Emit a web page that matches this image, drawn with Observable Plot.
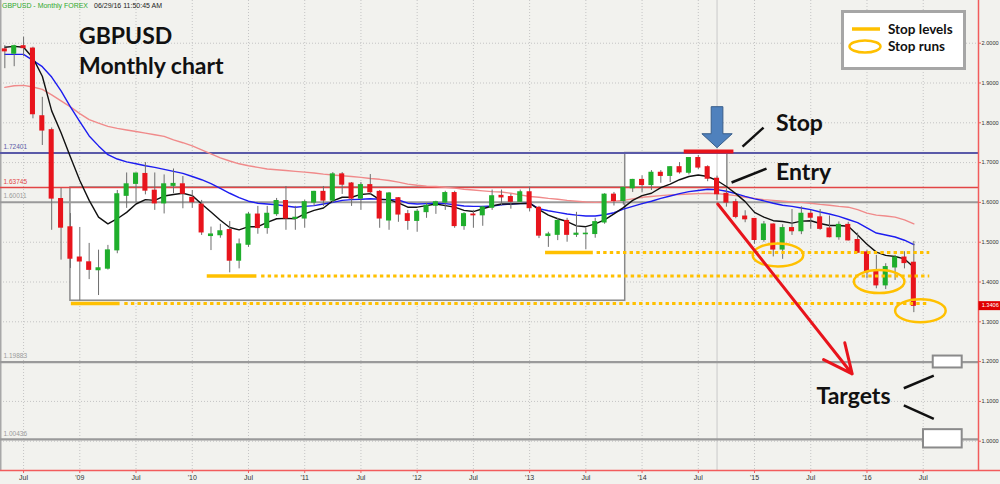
<!DOCTYPE html>
<html><head><meta charset="utf-8">
<script src="https://cdn.jsdelivr.net/npm/d3@7"></script>
<script src="https://cdn.jsdelivr.net/npm/@observablehq/plot@0.6"></script>
<style>
body{margin:0;background:#f2f2ee;}
#wrap{position:relative;width:1000px;height:484px;overflow:hidden;background:#f2f2ee;}
#chart svg{display:block;}
#overlay{position:absolute;left:0;top:0;pointer-events:none;}
</style></head>
<body>
<div id="wrap"><div id="chart"></div>
<svg id="overlay" width="1000" height="484">
  <text x="2" y="8" font-family="Liberation Sans, Arial" font-size="7.5" textLength="86" lengthAdjust="spacingAndGlyphs" fill="#2fa82f">GBPUSD - Monthly  FOREX</text>
  <text x="94" y="8" font-family="Liberation Sans, Arial" font-size="7.5" textLength="68" lengthAdjust="spacingAndGlyphs" fill="#222">06/29/16  11:50:45 AM</text>
  <text x="79" y="43.5" font-family="Lato, 'Open Sans', sans-serif" font-weight="bold" font-size="23" fill="#111">GBPUSD</text>
  <text x="79" y="74" font-family="Lato, 'Open Sans', sans-serif" font-weight="bold" font-size="23" fill="#111">Monthly chart</text>
  <rect x="842.5" y="11.5" width="122" height="57" fill="#fff" stroke="#a6a6a6" stroke-width="3"/>
  <line x1="852" y1="29" x2="880" y2="29" stroke="#ffc000" stroke-width="3.5"/>
  <ellipse cx="865" cy="46.5" rx="15.5" ry="6" fill="none" stroke="#ffc000" stroke-width="2.5"/>
  <text x="888" y="33.5" font-family="Lato, 'Open Sans', sans-serif" font-weight="bold" font-size="13.5" fill="#111">Stop levels</text>
  <text x="888" y="50.5" font-family="Lato, 'Open Sans', sans-serif" font-weight="bold" font-size="13.5" fill="#111">Stop runs</text>
</svg>
</div>
<script>
// ---- data: monthly GBPUSD candles, May 2008 .. Jun 2016 (month index 0 = Jan 2009)
const firstMonth = -8;
const open = [
  1.984, 1.974, 1.992, 1.986, 1.816, 1.781, 1.608, 1.537,
  1.461, 1.449, 1.430, 1.434, 1.480, 1.617, 1.647, 1.671, 1.629, 1.598, 1.642, 1.645,
  1.611, 1.594, 1.516, 1.518, 1.530, 1.454, 1.494, 1.569, 1.536, 1.571, 1.603, 1.559,
  1.560, 1.600, 1.626, 1.605, 1.670, 1.647, 1.610, 1.643, 1.626, 1.555, 1.610, 1.570,
  1.554, 1.576, 1.592, 1.600, 1.623, 1.541, 1.569, 1.568, 1.587, 1.616, 1.613, 1.602,
  1.625, 1.586, 1.516, 1.519, 1.553, 1.519, 1.5205, 1.521, 1.550, 1.619, 1.604, 1.636,
  1.656, 1.644, 1.674, 1.667, 1.688, 1.675, 1.711, 1.688, 1.659, 1.621, 1.600, 1.564,
  1.558, 1.506, 1.544, 1.482, 1.535, 1.528, 1.571, 1.562, 1.534, 1.513, 1.543, 1.505,
  1.474, 1.425, 1.392, 1.437, 1.461, 1.448];
const high = [
  1.994, 1.995, 2.015, 1.990, 1.864, 1.787, 1.635, 1.572,
  1.537, 1.497, 1.480, 1.492, 1.630, 1.674, 1.674, 1.700, 1.674, 1.669, 1.684, 1.665,
  1.630, 1.605, 1.538, 1.545, 1.552, 1.508, 1.575, 1.590, 1.590, 1.610, 1.640, 1.590,
  1.606, 1.628, 1.640, 1.675, 1.675, 1.650, 1.650, 1.670, 1.630, 1.625, 1.612, 1.580,
  1.582, 1.598, 1.603, 1.628, 1.628, 1.574, 1.580, 1.590, 1.631, 1.631, 1.620, 1.631,
  1.638, 1.590, 1.525, 1.560, 1.560, 1.575, 1.535, 1.560, 1.622, 1.625, 1.637, 1.658,
  1.667, 1.680, 1.680, 1.690, 1.700, 1.711, 1.718, 1.692, 1.666, 1.634, 1.608, 1.579,
  1.559, 1.552, 1.546, 1.544, 1.582, 1.589, 1.580, 1.582, 1.566, 1.551, 1.550, 1.523,
  1.479, 1.467, 1.446, 1.467, 1.476, 1.502];
const low = [
  1.936, 1.941, 1.966, 1.810, 1.743, 1.530, 1.455, 1.434,
  1.353, 1.406, 1.366, 1.430, 1.471, 1.585, 1.600, 1.619, 1.580, 1.571, 1.622, 1.584,
  1.585, 1.517, 1.479, 1.510, 1.423, 1.433, 1.487, 1.520, 1.520, 1.565, 1.530, 1.530,
  1.535, 1.590, 1.590, 1.597, 1.620, 1.590, 1.580, 1.620, 1.535, 1.530, 1.550, 1.530,
  1.525, 1.560, 1.570, 1.580, 1.535, 1.530, 1.535, 1.540, 1.580, 1.591, 1.583, 1.600,
  1.576, 1.509, 1.487, 1.504, 1.500, 1.512, 1.481, 1.510, 1.545, 1.591, 1.593, 1.625,
  1.625, 1.630, 1.648, 1.650, 1.671, 1.669, 1.682, 1.652, 1.605, 1.588, 1.559, 1.549,
  1.495, 1.500, 1.463, 1.457, 1.517, 1.519, 1.533, 1.530, 1.511, 1.505, 1.503, 1.472,
  1.408, 1.383, 1.381, 1.404, 1.433, 1.323];
const close = [
  1.980, 1.992, 1.988, 1.822, 1.781, 1.610, 1.537, 1.459,
  1.452, 1.431, 1.434, 1.479, 1.620, 1.645, 1.672, 1.630, 1.598, 1.645, 1.646, 1.622,
  1.601, 1.525, 1.519, 1.527, 1.454, 1.494, 1.569, 1.536, 1.571, 1.603, 1.560, 1.561,
  1.600, 1.626, 1.605, 1.670, 1.645, 1.610, 1.643, 1.626, 1.560, 1.622, 1.570, 1.554,
  1.576, 1.591, 1.600, 1.623, 1.541, 1.570, 1.568, 1.587, 1.615, 1.613, 1.602, 1.625,
  1.586, 1.517, 1.519, 1.553, 1.519, 1.521, 1.521, 1.550, 1.619, 1.604, 1.636, 1.656,
  1.644, 1.674, 1.667, 1.688, 1.676, 1.711, 1.688, 1.660, 1.621, 1.600, 1.564, 1.558,
  1.506, 1.544, 1.482, 1.535, 1.528, 1.571, 1.562, 1.534, 1.513, 1.543, 1.505, 1.474,
  1.425, 1.392, 1.437, 1.461, 1.448, 1.3406];
// moving averages (one value per candle)
const maFast = [
  1.990, 1.992, 1.990, 1.963, 1.917, 1.830, 1.775, 1.714,
  1.655, 1.605, 1.563, 1.546, 1.559, 1.575, 1.596, 1.607, 1.605, 1.616, 1.620, 1.623,
  1.617, 1.596, 1.576, 1.555, 1.537, 1.531, 1.539, 1.539, 1.550, 1.559, 1.560, 1.559,
  1.571, 1.580, 1.586, 1.604, 1.613, 1.613, 1.620, 1.622, 1.607, 1.607, 1.599, 1.588,
  1.588, 1.592, 1.596, 1.592, 1.588, 1.580, 1.577, 1.584, 1.591, 1.596, 1.596, 1.597,
  1.598, 1.582, 1.568, 1.559, 1.552, 1.541, 1.539, 1.546, 1.556, 1.571, 1.587, 1.605,
  1.617, 1.623, 1.637, 1.646, 1.657, 1.665, 1.669, 1.665, 1.655, 1.640, 1.622, 1.602,
  1.575, 1.563, 1.554, 1.552, 1.548, 1.553, 1.554, 1.547, 1.542, 1.542, 1.540, 1.518,
  1.495, 1.475, 1.467, 1.464, 1.458, 1.437];
const maMid = [
  1.972, 1.972, 1.972, 1.957, 1.941, 1.915, 1.880, 1.840,
  1.803, 1.767, 1.742, 1.720, 1.709, 1.702, 1.697, 1.692, 1.688, 1.683, 1.678, 1.673,
  1.665, 1.657, 1.647, 1.635, 1.623, 1.612, 1.603, 1.598, 1.596, 1.594, 1.591, 1.588,
  1.590, 1.592, 1.596, 1.600, 1.605, 1.607, 1.608, 1.609, 1.608, 1.607, 1.606, 1.598,
  1.596, 1.597, 1.598, 1.597, 1.594, 1.591, 1.590, 1.590, 1.591, 1.594, 1.596, 1.597,
  1.598, 1.584, 1.579, 1.575, 1.571, 1.568, 1.566, 1.566, 1.569, 1.574, 1.583, 1.590,
  1.597, 1.603, 1.610, 1.616, 1.622, 1.627, 1.630, 1.633, 1.632, 1.628, 1.622, 1.615,
  1.609, 1.604, 1.598, 1.593, 1.590, 1.586, 1.582, 1.576, 1.571, 1.565, 1.557, 1.549,
  1.536, 1.523, 1.518, 1.513, 1.505, 1.494];
const maSlow = [
  1.889, 1.893, 1.894, 1.890, 1.884, 1.870, 1.855, 1.840,
  1.823, 1.808, 1.799, 1.791, 1.786, 1.782, 1.778, 1.774, 1.770, 1.766, 1.757, 1.750,
  1.742, 1.732, 1.722, 1.712, 1.704, 1.697, 1.692, 1.688, 1.684, 1.682, 1.680, 1.678,
  1.676, 1.674, 1.671, 1.669, 1.667, 1.665, 1.663, 1.660, 1.658, 1.655, 1.651, 1.646,
  1.643, 1.641, 1.640, 1.638, 1.636, 1.633, 1.631, 1.629, 1.627, 1.626, 1.623, 1.619,
  1.615, 1.613, 1.610, 1.608, 1.605, 1.603, 1.601, 1.600, 1.601, 1.603, 1.605, 1.609,
  1.613, 1.615, 1.617, 1.619, 1.620, 1.621, 1.622, 1.623, 1.622, 1.620, 1.617, 1.613,
  1.610, 1.607, 1.605, 1.603, 1.601, 1.600, 1.598, 1.595, 1.593, 1.590, 1.588, 1.582,
  1.573, 1.568, 1.566, 1.563, 1.556, 1.546];

// axes
const xTickMonths = [-6, 0, 6, 12, 18, 24, 30, 36, 42, 48, 54, 60, 66, 72, 78, 84, 90];
const xTickLabels = ["Jul", "'09", "Jul", "'10", "Jul", "'11", "Jul", "'12", "Jul", "'13", "Jul", "'14", "Jul", "'15", "Jul", "'16", "Jul"];
const yTicks = [1.0, 1.1, 1.2, 1.3, 1.4, 1.5, 1.6, 1.7, 1.8, 1.9, 2.0];

// horizontal levels drawn on the chart
const levelPrices = [1.72401, 1.63745, 1.60011, 1.19883, 1.00436];
const levelLabels = ["1.72401", "1.63745", "1.60011", "1.19883", "1.00436"];
const levelColors = ["#5a5aa8", "#e24545", "#9a9a9a", "#9a9a9a", "#9a9a9a"];
const levelWidths = [2, 1.5, 2, 2.2, 2.2];

// consolidation boxes (month index, price)
const boxFrom = [-1, 58.2];
const boxTo = [58.2, 69.1];
const boxLow = [1.353, 1.63745];
const boxHigh = [1.63745, 1.72401];

// stop levels (orange): solid segment then dotted extension
const stopPrices = [1.346, 1.415, 1.474];
const stopSolidFrom = [-0.9, 13.6, 49.7];
const stopSolidTo = [4.3, 18.9, 54.8];
const stopDotFrom = [4.8, 19.4, 55.2];
const stopDotTo = [90.7, 90.7, 90.7];
// stop runs (orange ellipses)
const runMonths = [74.5, 85.3, 89.7];
const runPrices = [1.468, 1.401, 1.328];

// annotations
const stopBar = {from: 64.5, to: 69.8, price: 1.728};
const entryArrow = {month: 68, price: 1.789};
const targetArrow = {m1: 68.08, p1: 1.596, m2: 82.42, p2: 1.169};
const noteTexts = ["Stop", "Entry", "Targets"];
const noteMonths = [74.3, 74.3, 78.6];
const notePrices = [1.797, 1.676, 1.111];
const pointerM1 = [70.72, 69.55, 87.93, 87.93];
const pointerP1 = [1.740, 1.650, 1.133, 1.090];
const pointerM2 = [72.96, 73.28, 91.13, 91.13];
const pointerP2 = [1.788, 1.685, 1.165, 1.056];
const targetFrom = [91.07, 90.03];
const targetTo = [94.16, 94.16];
const targetLow = [1.184, 0.983];
const targetHigh = [1.214, 1.029];
const lastPrice = 1.3406;
const cursorMonth = 68;

// ---- build tables
const candles = open.map((o, i) => ({m: firstMonth + i, o, h: high[i], l: low[i], c: close[i]}));
const maRows = (arr) => arr.map((v, i) => ({m: firstMonth + i, v}));
const levels = levelPrices.map((p, i) => ({p, label: levelLabels[i], color: levelColors[i], w: levelWidths[i]}));
const boxes = boxFrom.map((f, i) => ({x1: f, x2: boxTo[i], y1: boxLow[i], y2: boxHigh[i]}));
const stopsSolid = stopPrices.map((p, i) => ({p, x1: stopSolidFrom[i], x2: stopSolidTo[i]}));
const stopsDot = stopPrices.map((p, i) => ({p, x1: stopDotFrom[i], x2: stopDotTo[i]}));
const runs = runMonths.map((m, i) => ({m, p: runPrices[i]}));
const notes = noteTexts.map((t, i) => ({t, m: noteMonths[i], p: notePrices[i]}));
const pointers = pointerM1.map((m, i) => ({x1: m, y1: pointerP1[i], x2: pointerM2[i], y2: pointerP2[i]}));
const targets = targetFrom.map((f, i) => ({x1: f, x2: targetTo[i], y1: targetLow[i], y2: targetHigh[i]}));
const tickLabel = new Map(xTickMonths.map((m, i) => [m, xTickLabels[i]]));

const X0 = -8.462, X1 = 95.9, XR = 98.3;   // month-index extent of the frame and of the label strip
const Y0 = 0.9264, Y1 = 2.1073;

// custom symbols
const K = 0.5523;
const ellipseSymbol = {draw(ctx, size) {
  const r = Math.sqrt(size / Math.PI), rx = r * 2.2, ry = r;
  ctx.moveTo(rx, 0);
  ctx.bezierCurveTo(rx, K * ry, K * rx, ry, 0, ry);
  ctx.bezierCurveTo(-K * rx, ry, -rx, K * ry, -rx, 0);
  ctx.bezierCurveTo(-rx, -K * ry, -K * rx, -ry, 0, -ry);
  ctx.bezierCurveTo(K * rx, -ry, rx, -K * ry, rx, 0);
  ctx.closePath();
}};
const downArrowSymbol = {draw(ctx, size) {
  const r = Math.sqrt(size / Math.PI);
  const sw = 0.285 * r, hw = 0.74 * r, hs = r - 0.68 * r;
  ctx.moveTo(-sw, -r);
  ctx.lineTo(sw, -r);
  ctx.lineTo(sw, hs);
  ctx.lineTo(hw, hs);
  ctx.lineTo(0, r);
  ctx.lineTo(-hw, hs);
  ctx.lineTo(-sw, hs);
  ctx.closePath();
}};

const RED = "#e8141c", GREEN = "#1fae2c", GOLD = "#ffc000", AXIS = "#f25c5c";

const chart = Plot.plot({
  width: 1000, height: 484,
  marginLeft: 0, marginRight: 22, marginTop: 0, marginBottom: 14,
  x: {type: "linear", domain: [X0, X1], label: null},
  y: {type: "linear", domain: [Y0, Y1], label: null},
  style: {background: "#f2f2ee", fontFamily: "'Liberation Sans', Arial, sans-serif", overflow: "visible"},
  marks: [
    Plot.gridX(xTickMonths, {stroke: "#c4c4c4", strokeOpacity: 1, strokeDasharray: "1,2"}),
    Plot.gridY(yTicks, {stroke: "#c4c4c4", strokeOpacity: 1, strokeDasharray: "1,2"}),
    Plot.rect(boxes, {x1: "x1", x2: "x2", y1: "y1", y2: "y2", fill: "#ffffff", stroke: "#8a8a8a", strokeWidth: 1.5}),
    Plot.ruleX([cursorMonth], {stroke: "#c9c9c9", strokeWidth: 1}),
    Plot.ruleX([X0], {stroke: "#a8a8a8", strokeWidth: 2}),
    Plot.ruleY(levels, {y: "p", stroke: "color", strokeWidth: "w"}),
    Plot.text(levels, {x: X0, y: "p", text: "label", textAnchor: "start", dx: 3, dy: -6, fontSize: 6.5, fill: "color"}),
    Plot.line(maRows(maSlow), {x: "m", y: "v", stroke: "#f08a8a", strokeWidth: 1.4}),
    Plot.line(maRows(maMid), {x: "m", y: "v", stroke: "#1c1cf0", strokeWidth: 1.4}),
    Plot.line(maRows(maFast), {x: "m", y: "v", stroke: "#111111", strokeWidth: 1.4}),
    Plot.ruleX(candles, {x: "m", y1: "l", y2: "h", stroke: "#6e6e6e", strokeWidth: 1}),
    Plot.rect(candles, {
      x1: d => d.m - 0.27, x2: d => d.m + 0.27,
      y1: d => Math.min(d.o, d.c), y2: d => Math.max(d.o, d.c),
      insetTop: -0.7, insetBottom: -0.7,
      fill: d => d.c >= d.o ? GREEN : RED
    }),
    Plot.ruleY(stopsDot, {y: "p", x1: "x1", x2: "x2", stroke: GOLD, strokeWidth: 3, strokeDasharray: "3.4,3.2"}),
    Plot.ruleY(stopsSolid, {y: "p", x1: "x1", x2: "x2", stroke: GOLD, strokeWidth: 3.5}),
    Plot.dot(runs, {x: "m", y: "p", r: 11.5, symbol: ellipseSymbol, fill: "none", stroke: GOLD, strokeWidth: 2.5}),
    Plot.ruleY([stopBar], {y: "price", x1: "from", x2: "to", stroke: RED, strokeWidth: 4}),
    Plot.dot([entryArrow], {x: "month", y: "price", r: 20.5, symbol: downArrowSymbol, fill: "#4f81bd", stroke: "#385d8a", strokeWidth: 1}),
    Plot.arrow([targetArrow], {x1: "m1", y1: "p1", x2: "m2", y2: "p2", stroke: RED, strokeWidth: 3, headLength: 16, headAngle: 50}),
    Plot.link(pointers, {x1: "x1", y1: "y1", x2: "x2", y2: "y2", stroke: "#111", strokeWidth: 2.5}),
    Plot.rect(targets, {x1: "x1", x2: "x2", y1: "y1", y2: "y2", fill: "#ffffff", stroke: "#8a8a8a", strokeWidth: 2}),
    Plot.text(notes, {x: "m", y: "p", text: "t", textAnchor: "start", fontSize: 23, fontWeight: "bold", fontFamily: "Lato, 'Open Sans', sans-serif", fill: "#111"}),
    Plot.ruleX([X1], {y1: Y0, y2: Y1, stroke: AXIS, strokeWidth: 1.5}),
    Plot.ruleY([Y0], {x1: X0, x2: XR, stroke: AXIS, strokeWidth: 1.5}),
    Plot.axisY(yTicks, {anchor: "right", label: null, tickFormat: d3.format(".4f"), tickSize: 2, tickPadding: 1, fontSize: 5.6, stroke: AXIS, fill: "#333"}),
    Plot.axisX(xTickMonths, {anchor: "bottom", label: null, tickFormat: d => tickLabel.get(d), tickSize: 3, tickPadding: 2, fontSize: 7, stroke: AXIS, fill: "#333"}),
    Plot.ruleY([lastPrice], {x1: X1 + 0.05, x2: XR, stroke: "#e00000", strokeWidth: 9}),
    Plot.text([lastPrice], {x: (X1 + XR) / 2 + 0.05, y: d => d, text: d => d3.format(".4f")(d), fontSize: 5.6, fill: "#fff"})
  ]
});
document.getElementById("chart").appendChild(chart);
</script>
</body></html>
